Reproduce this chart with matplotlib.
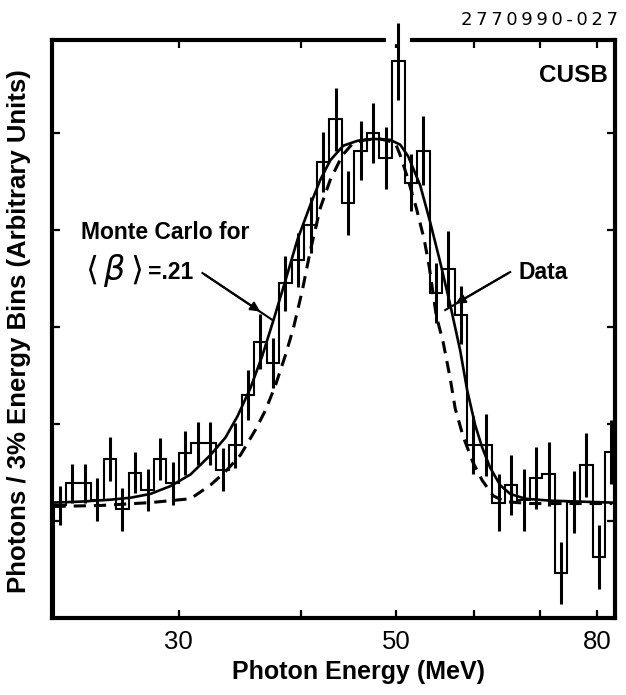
import numpy as np
import matplotlib
matplotlib.use("Agg")
import matplotlib.pyplot as plt
from matplotlib.ticker import FixedLocator, NullFormatter

plt.rcParams['font.family'] = ['Liberation Sans', 'DejaVu Sans']

# 3% energy bins (MeV), bin edges
edges = [22.38, 23.05, 23.74, 24.44, 25.17, 25.92, 26.70, 27.49, 28.31, 29.16,
         30.03, 30.92, 31.84, 32.79, 33.77, 34.78, 35.82, 36.89, 37.99, 39.12,
         40.29, 41.49, 42.73, 44.00, 45.31, 46.67, 48.06, 49.49, 50.97, 52.49,
         54.05, 55.67, 57.33, 59.04, 60.80, 62.61, 64.48, 66.40, 68.38, 70.42,
         72.52, 74.69, 76.91, 79.21, 81.57, 84.00]

# photons per bin (arbitrary units) and errors
counts = [1.16, 1.39, 1.39, 1.22, 1.64, 1.12, 1.50, 1.32, 1.64, 1.39,
          1.70, 1.80, 1.80, 1.53, 1.78, 2.30, 2.85, 2.63, 3.45, 3.69,
          4.05, 4.70, 5.14, 4.28, 4.82, 5.00, 4.74, 5.74, 4.49, 4.82,
          3.35, 3.60, 3.12, 1.78, 1.78, 1.19, 1.37, 1.22, 1.44, 1.48,
          0.46, 1.20, 1.58, 0.63, 1.71]
errors = [0.20, 0.20, 0.20, 0.22, 0.23, 0.22, 0.21, 0.22, 0.22, 0.22,
          0.23, 0.22, 0.22, 0.22, 0.23, 0.26, 0.28, 0.26, 0.28, 0.28,
          0.29, 0.31, 0.32, 0.33, 0.30, 0.31, 0.32, 0.40, 0.29, 0.36,
          0.31, 0.39, 0.30, 0.30, 0.32, 0.29, 0.31, 0.32, 0.32, 0.33,
          0.32, 0.32, 0.33, 0.33, 0.33]

# fit to data (solid)
fit_e = [22.38, 23.85, 25.58, 26.81, 28.10, 29.44, 30.86, 32.33, 33.49, 34.45,
         35.51, 36.53, 37.48, 38.55, 39.65, 40.87, 41.84, 42.83, 44.15, 45.63,
         47.37, 49.29, 50.46, 51.41, 52.88, 54.13, 55.41, 56.73, 58.07, 59.03,
         60.15, 61.14, 62.30, 63.78, 65.29, 67.63, 71.70, 76.94, 82.93]
fit_y = [1.19, 1.20, 1.22, 1.24, 1.28, 1.36, 1.48, 1.68, 1.86, 2.08,
         2.37, 2.71, 3.07, 3.48, 3.90, 4.26, 4.52, 4.72, 4.87, 4.92,
         4.94, 4.93, 4.88, 4.76, 4.46, 4.08, 3.67, 3.23, 2.76, 2.35,
         1.99, 1.76, 1.55, 1.37, 1.28, 1.23, 1.21, 1.20, 1.19]

# Monte Carlo for <beta> = .21 (dashed)
mc_e = [22.38, 24.99, 28.10, 30.86, 32.33, 33.49, 34.69, 35.93, 36.78, 37.66,
        38.55, 39.28, 40.11, 40.87, 41.84, 42.83, 44.05, 45.20, 46.49, 48.15,
        49.87, 50.46, 51.29, 52.39, 53.38, 54.01, 54.90, 55.81, 56.73, 57.40,
        58.48, 59.87, 61.14, 62.74, 64.53, 68.42, 82.93]
mc_y = [1.15, 1.16, 1.19, 1.23, 1.37, 1.51, 1.68, 1.94, 2.14, 2.40,
        2.71, 2.99, 3.38, 3.79, 4.23, 4.52, 4.77, 4.90, 4.93, 4.94,
        4.90, 4.77, 4.55, 4.23, 3.90, 3.62, 3.12, 2.84, 2.47, 2.16,
        1.87, 1.60, 1.42, 1.26, 1.20, 1.18, 1.18]

x_ticks = [30, 50, 80]
x_minor = [40, 60, 70]
y_ticks = [1, 2, 3, 4, 5]

fig = plt.figure(figsize=(6.26, 6.95), dpi=100)
ax = fig.add_axes([0.0831, 0.1108, 0.8994, 0.8317])
ax.set_xscale("log")
ax.set_xlim(22.3, 83.5)
ax.set_ylim(0, 5.96)

ax.stairs(counts, edges, color="black", lw=1.5)
centers = np.sqrt(np.array(edges[:-1]) * np.array(edges[1:]))
ax.vlines(centers, np.array(counts) - errors, np.array(counts) + errors,
          color="black", lw=2.2, clip_on=False, zorder=4)

ax.plot(fit_e, fit_y, color="black", lw=1.9)
ax.plot(mc_e, mc_y, color="black", lw=2.2, dashes=(4, 2.6))

for s in ax.spines.values():
    s.set_linewidth(3)
# gap in the top frame where the big error bar passes
ax.plot([48.8, 51.6], [1, 1], color="white", lw=6, solid_capstyle="butt",
        transform=ax.get_xaxis_transform(), clip_on=False, zorder=3)

ax.xaxis.set_major_locator(FixedLocator(x_ticks))
ax.xaxis.set_minor_locator(FixedLocator(x_minor))
ax.set_xticklabels([str(t) for t in x_ticks])
ax.xaxis.set_minor_formatter(NullFormatter())
ax.set_yticks(y_ticks)
ax.set_yticklabels([])
ax.tick_params(which="both", direction="in", length=6, width=1.6,
               top=True, right=True, labelsize=18.5, pad=9)

fig.text(359 / 626, 1 - 672 / 695, "Photon Energy (MeV)", ha="center",
         va="center", fontsize=18, fontweight="bold")
fig.text(19 / 626, 1 - 331 / 695, "Photons / 3% Energy Bins (Arbitrary Units)",
         rotation=90, ha="center", va="center", fontsize=18.5, fontweight="bold")

fig.text(618 / 626, 1 - 20 / 695, "\u2009".join("2770990-027"), ha="right",
         va="center", fontsize=13, family=["DejaVu Sans"])
ax.text(0.988, 0.938, "CUSB", transform=ax.transAxes, ha="right", va="center",
        fontsize=17.5, fontweight="bold")
ax.text(23.85, 3.97, "Monte Carlo for", fontsize=16.5, fontweight="bold",
        va="center")
ax.text(24.1, 3.58, r"$\langle\,\beta\,\rangle$", fontsize=24, va="center")
ax.text(27.9, 3.56, "=.21", fontsize=16.5, fontweight="bold", va="center")
ax.plot([31.73, 37.40], [3.557, 3.072], color="black", lw=1.5)
ax.annotate("", xy=(36.53, 3.144), xytext=(31.73, 3.557),
            arrowprops=dict(arrowstyle="-|>", color="black", lw=1.5,
                            mutation_scale=14))
ax.text(66.55, 3.567, "Data", fontsize=16.5, fontweight="bold", va="center")
ax.plot([65.29, 56.07], [3.567, 3.175], color="black", lw=1.5)
ax.annotate("", xy=(57.13, 3.227), xytext=(65.29, 3.567),
            arrowprops=dict(arrowstyle="-|>", color="black", lw=1.5,
                            mutation_scale=14))

fig.savefig("out.png", dpi=100)
